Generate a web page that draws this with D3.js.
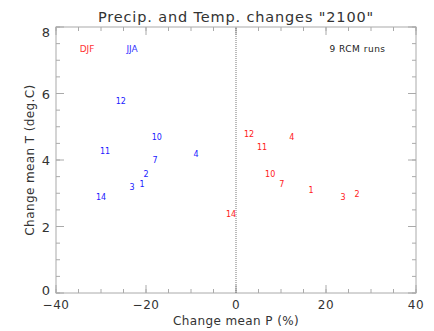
<!DOCTYPE html>
<html lang="en">
<head>
<meta charset="UTF-8">
<title>Precip. and Temp. changes</title>
<script src="https://d3js.org/d3.v7.min.js"></script>
<style>
    body { margin: 0; background: white; font-family: 'DejaVu Sans', sans-serif; }
    svg text { fill: #333; }
</style>
</head>
<body>
<div id="chart"></div>
<script>
// run ids and their changes (P in %, T in deg.C)
const runsJJA = ["12", "10", "11", "4", "7", "2", "1", "3", "14"];
const pJJA    = [-25.6, -17.6, -29.1, -8.9, -18.0, -20.0, -20.9, -23.1, -30.0];
const tJJA    = [5.77, 4.69, 4.27, 4.18, 4.00, 3.58, 3.28, 3.19, 2.89];

const runsDJF = ["12", "4", "11", "10", "7", "1", "3", "2", "14"];
const pDJF    = [2.9, 12.4, 5.8, 7.6, 10.2, 16.7, 23.8, 26.9, -1.1];
const tDJF    = [4.78, 4.69, 4.39, 3.58, 3.28, 3.10, 2.89, 2.98, 2.38];

const xTicks = [-40, -20, 0, 20, 40];
const yTicks = [0, 2, 4, 6, 8];

const width = 434, height = 331;
const margin = {top: 27, right: 18, bottom: 38, left: 56};

const svg = d3.select("#chart").append("svg")
    .attr("width", width).attr("height", height);

const x = d3.scaleLinear().domain([-40, 40]).range([margin.left, width - margin.right]);
const y = d3.scaleLinear().domain([0, 8]).range([height - margin.bottom, margin.top]);

const axisColor = "#aaa";

// frame
svg.append("rect")
    .attr("x", x(-40)).attr("y", y(8))
    .attr("width", x(40) - x(-40)).attr("height", y(0) - y(8))
    .attr("fill", "none").attr("stroke", axisColor).attr("stroke-width", 1);

// ticks on all four sides, pointing inward
function ticksX(vals, len) {
    svg.append("g").selectAll("line.b").data(vals).join("line")
        .attr("x1", d => x(d)).attr("x2", d => x(d))
        .attr("y1", y(0)).attr("y2", y(0) - len)
        .attr("stroke", axisColor);
    svg.append("g").selectAll("line.t").data(vals).join("line")
        .attr("x1", d => x(d)).attr("x2", d => x(d))
        .attr("y1", y(8)).attr("y2", y(8) + len)
        .attr("stroke", axisColor);
}
function ticksY(vals, len) {
    svg.append("g").selectAll("line.l").data(vals).join("line")
        .attr("y1", d => y(d)).attr("y2", d => y(d))
        .attr("x1", x(-40)).attr("x2", x(-40) + len)
        .attr("stroke", axisColor);
    svg.append("g").selectAll("line.r").data(vals).join("line")
        .attr("y1", d => y(d)).attr("y2", d => y(d))
        .attr("x1", x(40)).attr("x2", x(40) - len)
        .attr("stroke", axisColor);
}
ticksX(d3.range(-40, 40.1, 5), 4);
ticksX(xTicks, 8);
ticksY(d3.range(0, 8.01, 0.5), 4);
ticksY(yTicks, 8);

// tick labels
svg.append("g").selectAll("text").data(xTicks).join("text")
    .attr("x", d => x(d)).attr("y", y(0) + 16)
    .attr("text-anchor", "middle")
    .style("font-size", "12px")
    .style("letter-spacing", "0.5px")
    .text(d => d < 0 ? "\u2212" + Math.abs(d) : d);
// end labels sit a little inside, like the original plot
svg.append("g").selectAll("text").data(yTicks).join("text")
    .attr("x", x(-40) - 6).attr("y", d => y(d) + (d === 0 ? 2 : d === 8 ? 10 : 5))
    .attr("text-anchor", "end")
    .style("font-size", "13px")
    .text(d => d);

// zero line
svg.append("line")
    .attr("x1", x(0)).attr("x2", x(0))
    .attr("y1", y(0)).attr("y2", y(8))
    .attr("stroke", "#777").attr("stroke-dasharray", "1,1");

// titles
svg.append("text")
    .attr("x", (x(-40) + x(40)) / 2).attr("y", 22)
    .attr("text-anchor", "middle")
    .style("font-size", "14.5px")
    .style("letter-spacing", "0.85px")
    .text("Precip. and Temp. changes \"2100\"");
svg.append("text")
    .attr("x", x(0)).attr("y", height - 6)
    .attr("text-anchor", "middle")
    .style("font-size", "12px")
    .style("letter-spacing", "0.4px")
    .text("Change mean P (%)");
svg.append("text")
    .attr("transform", `translate(34, ${(y(0) + y(8)) / 2}) rotate(-90)`)
    .attr("text-anchor", "middle")
    .style("font-size", "12px")
    .style("letter-spacing", "0.4px")
    .text("Change mean T (deg.C)");

// legend-ish labels
svg.append("text").attr("x", x(-33.1)).attr("y", y(7.34) + 3)
    .attr("text-anchor", "middle").style("font-size", "9px")
    .style("fill", "#f33").text("DJF");
svg.append("text").attr("x", x(-23.1)).attr("y", y(7.34) + 3)
    .attr("text-anchor", "middle").style("font-size", "9px")
    .style("fill", "#33f").text("JJA");
svg.append("text").attr("x", x(27)).attr("y", y(7.34) + 3)
    .attr("text-anchor", "middle").style("font-size", "9px")
    .style("letter-spacing", "0.5px")
    .style("fill", "#222").text("9 RCM runs");

// run labels as markers
function plotRuns(ids, ps, ts, color) {
    svg.append("g").selectAll("text").data(ids).join("text")
        .attr("x", (d, i) => x(ps[i]))
        .attr("y", (d, i) => y(ts[i]) + 3)
        .attr("text-anchor", "middle")
        .style("font-size", "8px")
        .style("fill", color)
        .text(d => d);
}
plotRuns(runsJJA, pJJA, tJJA, "#1a1aff");
plotRuns(runsDJF, pDJF, tDJF, "#ff1a1a");
</script>
</body>
</html>
